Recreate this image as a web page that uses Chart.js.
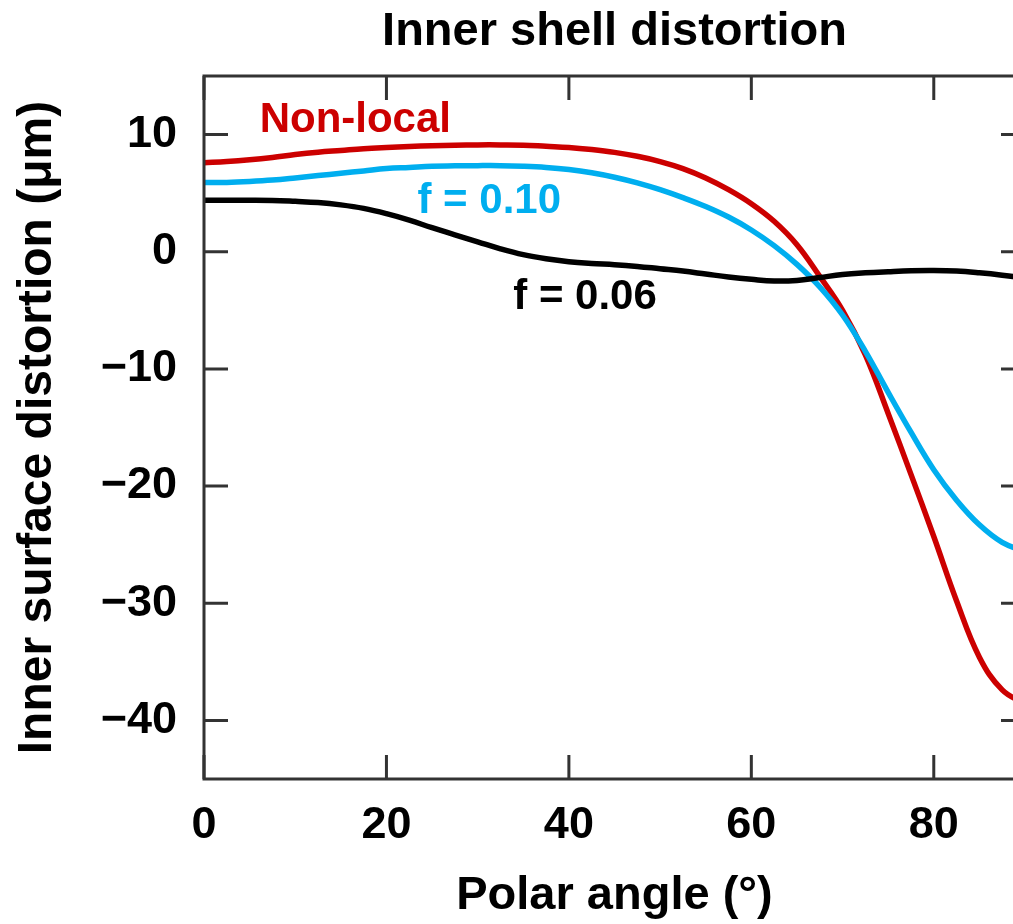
<!DOCTYPE html>
<html>
<head>
<meta charset="utf-8">
<script src="https://cdn.jsdelivr.net/npm/chart.js@4/dist/chart.umd.min.js"></script>
<style>
  html, body { margin: 0; padding: 0; background: #fff; overflow: hidden; }
  canvas { display: block; }
</style>
</head>
<body>
<canvas id="chart" width="1045" height="924"></canvas>
<script>
// polar angle samples (deg), every 2.5
const angles = [0, 2.5, 5, 7.5, 10, 12.5, 15, 17.5, 20, 22.5, 25, 27.5, 30, 32.5, 35, 37.5, 40, 42.5, 45,
  47.5, 50, 52.5, 55, 57.5, 60, 62.5, 65, 67.5, 70, 72.5, 75, 77.5, 80, 82.5, 85, 87.5, 90];

// inner surface distortion (um)
const nonLocal = [7.6, 7.7, 7.85, 8.05, 8.3, 8.5, 8.65, 8.8, 8.9, 8.98, 9.05, 9.1, 9.12, 9.12, 9.1, 9.0, 8.9, 8.72, 8.48,
  8.15, 7.7, 7.1, 6.3, 5.3, 4.1, 2.6, 0.6, -2.1, -5.0, -8.8, -13.8, -19.0, -24.3, -29.8, -34.6, -37.4, -38.6];
const f010 = [5.9, 5.92, 6.0, 6.12, 6.3, 6.5, 6.7, 6.9, 7.1, 7.2, 7.3, 7.33, 7.35, 7.35, 7.3, 7.2, 7.02, 6.74, 6.36,
  5.88, 5.3, 4.62, 3.86, 2.96, 1.86, 0.52, -1.08, -3.0, -5.4, -8.5, -12.0, -15.4, -18.6, -21.2, -23.3, -24.8, -25.6];
const f006 = [4.4, 4.4, 4.4, 4.38, 4.3, 4.2, 4.0, 3.7, 3.25, 2.7, 2.05, 1.45, 0.85, 0.25, -0.25, -0.6, -0.85, -1.0, -1.1,
  -1.25, -1.45, -1.65, -1.9, -2.15, -2.35, -2.5, -2.45, -2.2, -1.95, -1.8, -1.7, -1.62, -1.6, -1.65, -1.8, -2.0, -2.25];

const xTicks = [0, 20, 40, 60, 80];
const yTicks = [-40, -30, -20, -10, 0, 10];

// curve labels: [text, angle, value, colour]
const labels = [
  ['Non-local', 6.1, 11.2, '#cc0000'],
  ['f = 0.10', 23.4, 4.3, '#00aeef'],
  ['f = 0.06', 33.9, -3.9, '#000000']
];

const FONT = '"Liberation Sans", Arial, Helvetica, sans-serif';
const AXIS = '#333333';

const frame = {
  id: 'frame',
  afterDraw(chart) {
    const { ctx, chartArea: a, scales } = chart;
    const tl = 24;
    ctx.save();
    ctx.strokeStyle = AXIS;
    ctx.lineWidth = 3;
    ctx.strokeRect(a.left, a.top, a.right - a.left, a.bottom - a.top);
    ctx.beginPath();
    xTicks.forEach(v => {
      const x = scales.x.getPixelForValue(v);
      ctx.moveTo(x, a.bottom); ctx.lineTo(x, a.bottom - tl);
      ctx.moveTo(x, a.top); ctx.lineTo(x, a.top + tl);
    });
    yTicks.forEach(v => {
      const y = scales.y.getPixelForValue(v);
      ctx.moveTo(a.left, y); ctx.lineTo(a.left + tl, y);
      ctx.moveTo(a.right, y); ctx.lineTo(a.right - tl, y);
    });
    ctx.stroke();

    // curve labels
    ctx.font = 'bold 42px ' + FONT;
    ctx.textAlign = 'left';
    ctx.textBaseline = 'middle';
    labels.forEach(([t, xv, yv, c]) => {
      ctx.fillStyle = c;
      ctx.fillText(t, scales.x.getPixelForValue(xv), scales.y.getPixelForValue(yv));
    });

    // title centred over plot area
    ctx.fillStyle = '#000';
    ctx.textAlign = 'center';
    ctx.font = 'bold 47px ' + FONT;
    ctx.fillText('Inner shell distortion', (a.left + a.right) / 2, 32);
    ctx.restore();
  }
};

const fmt = v => (v < 0 ? '\u2212' + Math.abs(v) : String(v));

new Chart(document.getElementById('chart'), {
  type: 'line',
  data: {
    labels: angles,
    datasets: [
      { label: 'f = 0.06', data: angles.map((a, i) => ({ x: a, y: f006[i] })), borderColor: '#000000' },
      { label: 'f = 0.10', data: angles.map((a, i) => ({ x: a, y: f010[i] })), borderColor: '#00aeef' },
      { label: 'Non-local', data: angles.map((a, i) => ({ x: a, y: nonLocal[i] })), borderColor: '#cc0000' }
    ].map(d => Object.assign(d, { borderWidth: 5.5, pointRadius: 0, fill: false, tension: 0.4 }))
  },
  options: {
    responsive: false,
    animation: false,
    layout: { padding: { top: 76, right: 20, left: 0, bottom: 0 } },
    plugins: { legend: { display: false }, tooltip: { enabled: false }, title: { display: false } },
    scales: {
      x: {
        type: 'linear',
        min: 0,
        max: 90,
        afterBuildTicks: s => { s.ticks = xTicks.map(v => ({ value: v })); },
        afterFit: s => { s.height = 145; },
        grid: { display: false, drawTicks: false },
        border: { display: false },
        ticks: { color: '#000', padding: 20, maxRotation: 0, font: { family: FONT, size: 45, weight: 'bold' }, callback: fmt },
        title: { display: true, text: 'Polar angle (°)', color: '#000', padding: { top: 0, bottom: 0 }, font: { family: FONT, size: 47, weight: 'bold' } }
      },
      y: {
        min: -45,
        max: 15,
        afterBuildTicks: s => { s.ticks = yTicks.map(v => ({ value: v })); },
        afterFit: s => { s.width = 204; },
        grid: { display: false, drawTicks: false },
        border: { display: false },
        ticks: { color: '#000', padding: 27, font: { family: FONT, size: 45, weight: 'bold' }, callback: fmt },
        title: { display: true, text: 'Inner surface distortion (μm)', color: '#000', padding: { top: 9, bottom: 0 }, font: { family: FONT, size: 48, weight: 'bold' } }
      }
    }
  },
  plugins: [frame]
});
</script>
</body>
</html>
